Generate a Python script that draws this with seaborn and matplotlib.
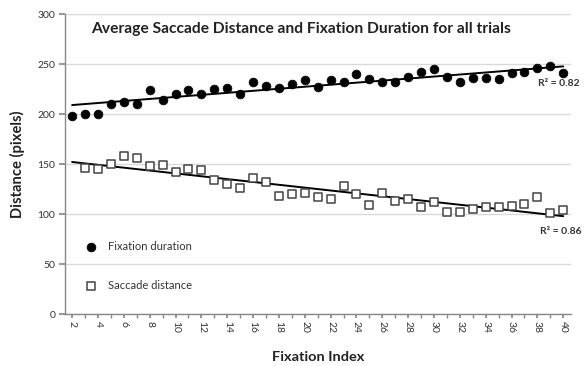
import numpy as np
import pandas as pd
import matplotlib
matplotlib.use("Agg")
import matplotlib.pyplot as plt
import seaborn as sns
from matplotlib.ticker import MultipleLocator

# ---- data ----
fix_index = list(range(2, 41))
fixation_duration = [198, 200, 200, 210, 212, 210, 224, 214, 220, 224, 220, 225,
                     226, 220, 232, 228, 226, 230, 234, 227, 234, 232, 240, 235,
                     232, 232, 237, 242, 245, 237, 232, 236, 236, 235, 241, 242,
                     246, 248, 241]
sac_index = list(range(3, 41))
saccade_distance = [146, 145, 150, 158, 156, 148, 149, 142, 145, 144, 134, 130,
                    126, 136, 132, 118, 120, 121, 117, 115, 128, 120, 109, 121,
                    113, 115, 107, 112, 102, 102, 105, 107, 107, 108, 110, 117,
                    101, 104]
x_ticks = list(range(2, 41, 2))
y_ticks = list(range(0, 301, 50))
r2_labels = ["R² = 0.82", "R² = 0.86"]

df_fix = pd.DataFrame({"x": fix_index, "y": fixation_duration})
df_sac = pd.DataFrame({"x": sac_index, "y": saccade_distance})

sns.set_theme(style="white")
plt.rcParams["font.family"] = ["Lato", "DejaVu Sans"]

fig = plt.figure(figsize=(5.85, 3.66), dpi=100)
ax = fig.add_axes([65/585, 1 - 314/366, (571 - 65)/585, 300/366])

ax.set_xlim(1.45, 40.6)
ax.set_ylim(0, 300)
ax.set_yticks(y_ticks)
ax.yaxis.grid(True, color="#d9d9d9", linewidth=1.0)
ax.set_axisbelow(True)

sns.scatterplot(data=df_fix, x="x", y="y", ax=ax, color="black", marker="o",
                s=40, edgecolor="black", linewidth=0.5, label="Fixation duration",
                zorder=3)
sns.scatterplot(data=df_sac, x="x", y="y", ax=ax, facecolor="white", marker="s",
                s=38, edgecolor="#444444", linewidth=1.1, label="Saccade distance",
                zorder=3)

# linear trendlines spanning the index range
xl = np.array([2, 40])
for d in (df_fix, df_sac):
    k, b = np.polyfit(d["x"], d["y"], 1)
    sns.lineplot(x=xl, y=k * xl + b, ax=ax, color="black", linewidth=1.4, zorder=2)

ax.text(38.05, 231, r2_labels[0], fontsize=7.5, fontweight="bold",
        ha="left", va="center", color="#333333", clip_on=False)
ax.text(38.2, 83, r2_labels[1], fontsize=7.5, fontweight="bold",
        ha="left", va="center", color="#333333", clip_on=False)

ax.set_xticks(x_ticks)
ax.set_xticklabels([str(t) for t in x_ticks], rotation=-90, fontsize=7.5, color="#333333")
ax.xaxis.set_minor_locator(MultipleLocator(1))
ax.tick_params(axis="x", which="both", direction="out", length=3, color="#888888",
               bottom=True, pad=2)
ax.tick_params(axis="y", direction="out", length=4, color="#888888", left=True,
               labelsize=7.5, labelcolor="#333333", pad=3)

for s in ("top", "right"):
    ax.spines[s].set_visible(False)
for s in ("left", "bottom"):
    ax.spines[s].set_color("#888888")
    ax.spines[s].set_linewidth(1.0)

ax.set_xlabel("Fixation Index", fontsize=10.5, fontweight="bold", color="#222222")
ax.xaxis.set_label_coords(0.5, -0.122)
ax.set_ylabel("Distance (pixels)", fontsize=10.5, fontweight="bold", color="#222222")
ax.yaxis.set_label_coords(-0.08, 0.5)

title = ax.text((91 - 65) / 506, (314 - 29) / 300,
                "Average Saccade Distance and Fixation Duration for all trials",
                transform=ax.transAxes, fontsize=10.5, fontweight="bold",
                color="#222222", ha="left", va="center")

leg = ax.legend(loc="center left", bbox_to_anchor=(0.0, 48 / 300), frameon=False,
                fontsize=8, labelspacing=2.5, handletextpad=0.6, borderaxespad=0.9)
for t in leg.get_texts():
    t.set_color("#333333")

# fit text sizes to the widths measured on the reference
def fit(artist, target, use_height=False):
    fig.canvas.draw()
    bb = artist.get_window_extent(fig.canvas.get_renderer())
    cur = bb.height if use_height else bb.width
    if cur > 0:
        artist.set_fontsize(artist.get_fontsize() * target / cur)

fit(title, 422)
fit(ax.xaxis.label, 92)
fit(ax.yaxis.label, 108, use_height=True)

fig.savefig("out.png", dpi=100)
